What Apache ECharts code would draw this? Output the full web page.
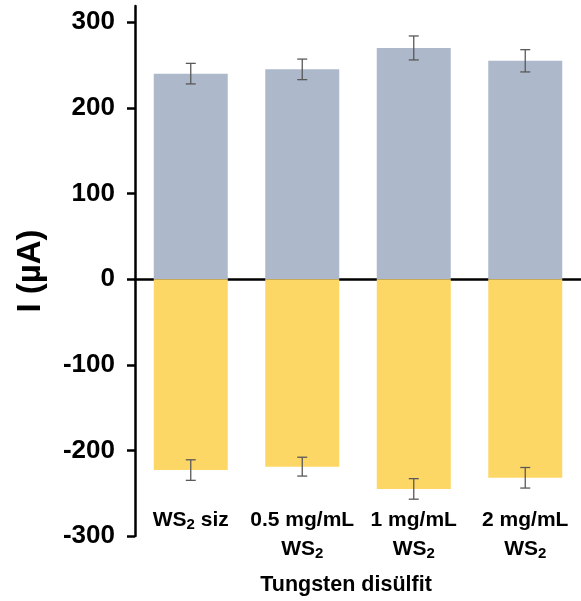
<!DOCTYPE html>
<html>
<head>
<meta charset="utf-8">
<script src="https://cdn.jsdelivr.net/npm/echarts@6/dist/echarts.min.js"></script>
<style>
  html, body { margin: 0; padding: 0; background: #fff; }
  #chart { width: 581px; height: 601px; }
</style>
</head>
<body>
<div id="chart"></div>
<script>
const categories = ['WS{s|2} siz', '0.5 mg/mL\nWS{s|2}', '1 mg/mL\nWS{s|2}', '2 mg/mL\nWS{s|2}']
const positive = [240, 245, 270, 255]
const positiveErr = [12, 12, 14, 13]
const negative = [-223, -219, -245, -232]
const negativeErr = [12, 11, 12, 12]
const yTicks = [-300, -200, -100, 0, 100, 200, 300]

const FONT = '"Liberation Sans", Arial, sans-serif'
const chart = echarts.init(document.getElementById('chart'))

// error bars as a custom series: [index, low, high]
const errData = []
positive.forEach((v, i) => errData.push([i, v - positiveErr[i], v + positiveErr[i]]))
negative.forEach((v, i) => errData.push([i, v - negativeErr[i], v + negativeErr[i]]))

const renderErr = (params, api) => {
  const lo = api.coord([api.value(0), api.value(1)])
  const hi = api.coord([api.value(0), api.value(2)])
  const cap = 5
  const style = { stroke: '#595959', lineWidth: 1.3 }
  return {
    type: 'group',
    children: [
      { type: 'line', shape: { x1: lo[0], y1: lo[1], x2: hi[0], y2: hi[1] }, style },
      { type: 'line', shape: { x1: lo[0] - cap, y1: lo[1], x2: lo[0] + cap, y2: lo[1] }, style },
      { type: 'line', shape: { x1: hi[0] - cap, y1: hi[1], x2: hi[0] + cap, y2: hi[1] }, style }
    ]
  }
}

chart.setOption({
  animation: false,
  textStyle: { fontFamily: FONT },
  grid: { left: 135, right: -4, top: 6, bottom: 65, containLabel: false },
  xAxis: [
    {
      type: 'category',
      data: categories,
      axisLine: { onZero: true, lineStyle: { color: '#000', width: 2.5 } },
      axisTick: { show: false },
      axisLabel: { show: false }
    },
    {
      type: 'category',
      data: categories,
      position: 'bottom',
      axisLine: { show: false, onZero: false },
      axisTick: { show: false },
      axisLabel: {
        interval: 0,
        margin: -30,
        verticalAlign: 'top',
        color: '#000',
        fontSize: 21,
        fontWeight: 'bold',
        lineHeight: 29,
        fontFamily: FONT,
        rich: {
          s: { fontSize: 15, fontWeight: 'bold', fontFamily: FONT, padding: [8, 0, 0, 0] }
        }
      },
      name: 'Tungsten disülfit',
      nameLocation: 'middle',
      nameGap: 38,
      nameTextStyle: { color: '#000', fontSize: 21.5, fontWeight: 'bold', padding: [0, 24, 0, 0] }
    }
  ],
  yAxis: {
    type: 'value',
    min: -300,
    max: 319,
    name: 'I (µA)',
    nameLocation: 'middle',
    nameRotate: 90,
    nameGap: 88,
    nameTextStyle: { color: '#000', fontSize: 33, fontWeight: 'bold' },
    splitLine: { show: false },
    axisLine: { show: true, lineStyle: { color: '#000', width: 2.5 } },
    axisTick: { show: true, length: 8, customValues: yTicks, lineStyle: { color: '#000', width: 2.5 } },
    axisLabel: { customValues: yTicks, margin: 20, color: '#000', fontSize: 26, fontWeight: 'bold' }
  },
  series: [
    {
      type: 'bar',
      data: positive,
      stack: 'all',
      barWidth: 74,
      itemStyle: { color: '#adb8ca' }
    },
    {
      type: 'bar',
      data: negative,
      stack: 'all',
      barWidth: 74,
      itemStyle: { color: '#fdd766' }
    },
    {
      type: 'custom',
      data: errData,
      renderItem: renderErr,
      z: 10
    }
  ]
})
</script>
</body>
</html>
